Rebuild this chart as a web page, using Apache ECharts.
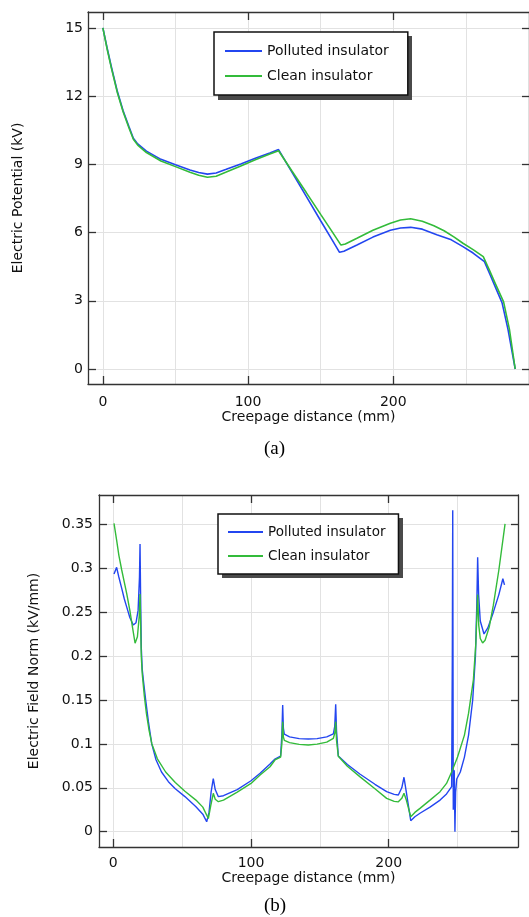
<!DOCTYPE html>
<html>
<head>
<meta charset="utf-8">
<script src="https://cdn.jsdelivr.net/npm/echarts@6/dist/echarts.min.js"></script>
<style>
  html, body { margin: 0; padding: 0; background: #fff; }
  #chart { width: 529px; height: 917px; }
</style>
</head>
<body>
<div id="chart"></div>
<script>
// (a) electric potential along the creepage path
var pot_polluted_x = [0, 3, 6, 10, 14, 18, 21, 24, 30, 40, 50, 60, 66, 72, 78, 85, 95, 105, 115, 121, 130, 140, 150, 158, 163, 166, 175, 186, 198, 205, 212, 220, 230, 240, 248, 255, 262.8, 267, 271, 275, 279, 284];
var pot_polluted_y = [15.0, 14.1, 13.25, 12.2, 11.35, 10.65, 10.15, 9.9, 9.58, 9.22, 8.98, 8.75, 8.64, 8.57, 8.62, 8.78, 9.02, 9.27, 9.5, 9.65, 8.68, 7.6, 6.52, 5.67, 5.13, 5.18, 5.45, 5.8, 6.1, 6.2, 6.23, 6.15, 5.9, 5.68, 5.38, 5.1, 4.72, 4.1, 3.5, 2.9, 1.75, 0];
var pot_clean_x = [0, 3, 6, 10, 14, 18, 21, 24, 30, 40, 50, 60, 66, 72, 78, 85, 95, 105, 115, 121, 130, 140, 150, 158, 164, 167, 175, 186, 198, 205, 212, 220, 228, 235, 242, 248, 255, 262, 266, 270, 276, 280, 284];
var pot_clean_y = [15.0, 14.05, 13.2, 12.15, 11.3, 10.6, 10.1, 9.85, 9.52, 9.15, 8.9, 8.65, 8.52, 8.43, 8.48, 8.66, 8.93, 9.2, 9.45, 9.6, 8.73, 7.77, 6.8, 6.03, 5.45, 5.5, 5.75, 6.1, 6.41, 6.55, 6.61, 6.5, 6.3, 6.08, 5.8, 5.53, 5.25, 4.94, 4.38, 3.8, 2.95, 1.75, 0];

// (b) electric field norm along the creepage path
var field_polluted_x = [0.5, 2.4, 4, 6.1, 8, 9.7, 12, 14.5, 16.5, 18, 19, 19.4, 19.8, 20.3, 21, 21.8, 23.5, 25.5, 27.9, 31, 35, 40, 45, 52, 60, 65, 67.8, 69.5, 71, 72.6, 74, 76.3, 80, 90, 100, 106.6, 113.8, 117.4, 121.5, 122.4, 123, 123.5, 124.2, 128, 135, 141.6, 148, 155, 159.8, 160.8, 161.5, 162.1, 163.4, 170, 179, 190, 198.5, 204, 207, 209.5, 211.1, 212.8, 216, 219, 222.7, 230, 237.3, 242, 245.7, 246.2, 246.5, 246.9, 247.6, 248.1, 248.6, 249.4, 252, 255, 258, 261, 263, 264, 264.6, 265.3, 266.5, 269.2, 272, 276, 280, 282.9, 284.1];
var field_polluted_y = [0.2935, 0.301, 0.29, 0.277, 0.265, 0.256, 0.244, 0.2354, 0.238, 0.252, 0.29, 0.3277, 0.27, 0.21, 0.185, 0.173, 0.15, 0.125, 0.1, 0.082, 0.068, 0.057, 0.049, 0.04, 0.0285, 0.02, 0.0114, 0.022, 0.045, 0.0604, 0.048, 0.0399, 0.041, 0.048, 0.058, 0.0665, 0.077, 0.0828, 0.0862, 0.11, 0.1443, 0.118, 0.111, 0.108, 0.106, 0.1056, 0.106, 0.108, 0.1113, 0.12, 0.1451, 0.115, 0.0862, 0.0765, 0.0657, 0.054, 0.0456, 0.0425, 0.0418, 0.05, 0.062, 0.045, 0.0125, 0.017, 0.021, 0.028, 0.036, 0.043, 0.0513, 0.2, 0.366, 0.025, 0.07, 0.0, 0.045, 0.06, 0.068, 0.085, 0.11, 0.15, 0.2, 0.26, 0.3125, 0.27, 0.24, 0.2252, 0.232, 0.25, 0.27, 0.288, 0.281];
var field_clean_x = [0.5, 2.4, 4, 6.1, 8, 9.7, 12, 14, 15.8, 17.5, 18.8, 19.4, 19.8, 20.3, 21, 22.5, 24, 26, 28, 32, 38, 45, 52, 60, 65, 69, 70.8, 72.6, 74, 76.3, 80, 90, 100, 106.6, 113.8, 117.4, 121.5, 122.4, 123, 123.5, 124.2, 128, 135, 141.6, 148, 155, 159.8, 160.8, 161.5, 162.1, 163.4, 170, 179, 190, 198.5, 204, 207, 209.5, 211.1, 212.8, 216, 219, 222.7, 230, 237.3, 242, 245.7, 250, 255, 258, 261.5, 263.3, 264.6, 265.4, 266.5, 268.2, 270, 273, 276, 280, 284.5];
var field_clean_y = [0.351, 0.332, 0.315, 0.298, 0.284, 0.2715, 0.252, 0.232, 0.2146, 0.222, 0.245, 0.2707, 0.24, 0.2, 0.18, 0.155, 0.135, 0.115, 0.1, 0.083, 0.068, 0.056, 0.046, 0.036, 0.028, 0.015, 0.03, 0.0437, 0.037, 0.0342, 0.036, 0.045, 0.055, 0.0646, 0.074, 0.0817, 0.085, 0.1, 0.1253, 0.108, 0.104, 0.1015, 0.0995, 0.0988, 0.0997, 0.102, 0.1064, 0.112, 0.1253, 0.104, 0.086, 0.0745, 0.0627, 0.049, 0.038, 0.0345, 0.034, 0.038, 0.0437, 0.036, 0.017, 0.022, 0.0266, 0.036, 0.0456, 0.055, 0.068, 0.085, 0.11, 0.135, 0.173, 0.215, 0.27, 0.235, 0.22, 0.215, 0.218, 0.233, 0.258, 0.298, 0.3505];

// ticks and grid lines
var x_ticks = [0, 100, 200];
var x_grid = [0, 50, 100, 150, 200, 250];
var pot_y_ticks = [0, 3, 6, 9, 12, 15];
var field_y_ticks = [0, 0.05, 0.1, 0.15, 0.2, 0.25, 0.3, 0.35];

var series_names = ['Polluted insulator', 'Clean insulator'];
var BLUE = '#2346f0';
var GREEN = '#33bb3a';
var FONT = 'DejaVu Sans';
var AXIS = { color: '#333', width: 1.3 };

function pairs(xs, ys) {
    return xs.map(function (x, i) { return [x, ys[i]]; });
}

// x axis: main one (labels + ticks), top one (box + ticks), and a bare one for the 50mm grid lines
function xAxes(grid, min, max, nameGap, labelMargin) {
    return [
        {
            type: 'value', gridIndex: grid, position: 'bottom', min: min, max: max,
            name: 'Creepage distance (mm)', nameLocation: 'middle', nameGap: nameGap,
            nameTextStyle: { fontFamily: FONT, fontSize: 14, color: '#111' },
            axisLine: { show: true, onZero: false, lineStyle: AXIS },
            axisTick: { show: true, inside: true, length: 8, customValues: x_ticks, lineStyle: AXIS },
            axisLabel: { show: true, customValues: x_ticks, margin: labelMargin, fontFamily: FONT, fontSize: 14, color: '#111' },
            splitLine: { show: false }
        },
        {
            type: 'value', gridIndex: grid, position: 'top', min: min, max: max,
            axisLine: { show: true, onZero: false, lineStyle: AXIS },
            axisTick: { show: true, inside: true, length: 8, customValues: x_ticks, lineStyle: AXIS },
            axisLabel: { show: false },
            splitLine: { show: false }
        },
        {
            type: 'value', gridIndex: grid, position: 'bottom', min: min, max: max,
            axisLine: { show: false, onZero: false },
            axisTick: { show: false, customValues: x_grid },
            axisLabel: { show: false, customValues: x_grid },
            splitLine: { show: true, lineStyle: { color: '#e2e2e2', width: 1 } }
        }
    ];
}

function yAxes(grid, min, max, ticks, name, nameGap, labelMargin) {
    return [
        {
            type: 'value', gridIndex: grid, position: 'left', min: min, max: max,
            name: name, nameLocation: 'middle', nameGap: nameGap,
            nameTextStyle: { fontFamily: FONT, fontSize: 14, color: '#111' },
            axisLine: { show: true, onZero: false, lineStyle: AXIS },
            axisTick: { show: true, inside: true, length: 8, customValues: ticks, lineStyle: AXIS },
            axisLabel: { show: true, customValues: ticks, margin: labelMargin, fontFamily: FONT, fontSize: 14, color: '#111' },
            splitLine: { show: true, lineStyle: { color: '#e2e2e2', width: 1 } }
        },
        {
            type: 'value', gridIndex: grid, position: 'right', min: min, max: max,
            axisLine: { show: true, onZero: false, lineStyle: AXIS },
            axisTick: { show: true, inside: true, length: 7, customValues: ticks, lineStyle: AXIS },
            axisLabel: { show: false },
            splitLine: { show: false }
        }
    ];
}

// legend box, plain line samples (the drop shadow is a graphic rect behind it)
function legend(left, top, itemWidth, pad, gap, size) {
    return {
        data: series_names.map(function (n) { return { name: n, icon: 'rect' }; }),
        orient: 'vertical', left: left, top: top, z: 6,
        itemWidth: itemWidth, itemHeight: 2, itemGap: gap, padding: pad,
        backgroundColor: '#fff', borderColor: '#111', borderWidth: 1.5, borderRadius: 0,
        selectedMode: false,
        textStyle: { fontFamily: FONT, fontSize: size, lineHeight: 14, color: '#111' }
    };
}

function shadow(left, top, w, h) {
    return { type: 'rect', left: left + 4, top: top + 4, z: 5, silent: true,
        shape: { width: w, height: h }, style: { fill: '#4a4a4a' } };
}

function line(name, color, xi, yi, data, width) {
    return {
        name: name, type: 'line', xAxisIndex: xi, yAxisIndex: yi, data: data,
        symbol: 'none', showSymbol: false, smooth: false,
        lineStyle: { color: color, width: width }, itemStyle: { color: color },
        emphasis: { disabled: true }
    };
}

var myChart = echarts.init(document.getElementById('chart'), null, { renderer: 'canvas' });

var option = {
    animation: false,
    backgroundColor: '#fff',
    grid: [
        { left: 88, top: 12, width: 445, height: 372, containLabel: false },
        { left: 99, top: 495, width: 419, height: 352, containLabel: false }
    ],
    xAxis: xAxes(0, -10.24, 293.5, 26, 11).concat(xAxes(1, -10.4, 293.9, 23, 9)),
    yAxis: yAxes(0, -0.66, 15.7, pot_y_ticks, 'Electric Potential (kV)', 63, 5)
        .concat(yAxes(1, -0.0174, 0.3834, field_y_ticks, 'Electric Field Norm (kV/mm)', 58, 6)),
    legend: [
        legend(214, 32, 37, [12, 19, 12, 11], 11, 14),
        legend(218, 514, 35, [11, 13, 11, 10], 10, 13.5)
    ],
    graphic: [
        shadow(214, 32, 194, 64),
        shadow(218, 514, 181, 60)
    ],
    title: [
        { text: '(a)', left: 264, top: 440, padding: 0, textStyle: { fontFamily: 'Liberation Serif', fontSize: 19, fontWeight: 'normal', color: '#000' } },
        { text: '(b)', left: 264, top: 897, padding: 0, textStyle: { fontFamily: 'Liberation Serif', fontSize: 19, fontWeight: 'normal', color: '#000' } }
    ],
    series: [
        line(series_names[0], BLUE, 0, 0, pairs(pot_polluted_x, pot_polluted_y), 1.6),
        line(series_names[1], GREEN, 0, 0, pairs(pot_clean_x, pot_clean_y), 1.6),
        line(series_names[0], BLUE, 3, 2, pairs(field_polluted_x, field_polluted_y), 1.4),
        line(series_names[1], GREEN, 3, 2, pairs(field_clean_x, field_clean_y), 1.4)
    ]
};

myChart.setOption(option);
</script>
</body>
</html>
